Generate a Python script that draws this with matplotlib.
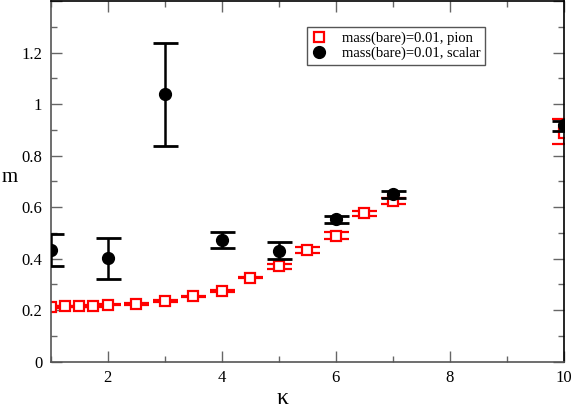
# -*- coding: utf-8 -*-

import numpy as np
import matplotlib.pyplot as plt
from matplotlib.lines import Line2D
from matplotlib.ticker import MultipleLocator, FuncFormatter

plt.rcParams['font.family'] = ['Liberation Serif', 'DejaVu Serif']

#%% data

# pion, mass(bare)=0.01
kappa_pion = [1.0, 1.25, 1.5, 1.75, 2.0, 2.5, 3.0, 3.5, 4.0, 4.5, 5.0, 5.5, 6.0, 6.5, 7.0, 10.0]
m_pion = [0.212, 0.215, 0.215, 0.217, 0.222, 0.224, 0.235, 0.254, 0.274, 0.327, 0.370,
          0.434, 0.490, 0.576, 0.623, 0.889]
m_pion_lo = [0.209, 0.212, 0.212, 0.214, 0.219, 0.221, 0.232, 0.251, 0.271, 0.324, 0.360,
             0.424, 0.478, 0.565, 0.612, 0.845]
m_pion_hi = [0.215, 0.218, 0.218, 0.220, 0.225, 0.227, 0.238, 0.257, 0.277, 0.330, 0.379,
             0.445, 0.503, 0.586, 0.635, 0.943]

# scalar, mass(bare)=0.01
kappa_scalar = [1.0, 2.0, 3.0, 4.0, 5.0, 6.0, 7.0, 10.0]
m_scalar = [0.432, 0.402, 1.040, 0.472, 0.431, 0.553, 0.650, 0.917]
m_scalar_lo = [0.372, 0.321, 0.839, 0.441, 0.399, 0.539, 0.637, 0.894]
m_scalar_hi = [0.494, 0.482, 1.238, 0.504, 0.464, 0.567, 0.663, 0.935]

#%% plot

def err(y, lo, hi):
    y, lo, hi = np.array(y), np.array(lo), np.array(hi)
    return np.vstack((y - lo, hi - y))

plt.close('all')
f = plt.figure(figsize=(5.74, 4.09), dpi=100)
ax = f.add_axes([0.0883, 0.1154, 0.8943, 0.8822])

ax.errorbar(kappa_pion, m_pion, yerr=err(m_pion, m_pion_lo, m_pion_hi), fmt='s',
            color='red', mfc='white', mec='red', mew=1.6, ms=6.5,
            elinewidth=1.5, capsize=9, capthick=2, zorder=2)
ax.errorbar(kappa_scalar, m_scalar, yerr=err(m_scalar, m_scalar_lo, m_scalar_hi), fmt='o',
            color='black', ms=8.5, elinewidth=1.8, capsize=9, capthick=2, zorder=3)

ax.set_xlim(1, 10)
ax.set_ylim(0, 1.4)
ax.xaxis.set_major_locator(MultipleLocator(2))
ax.xaxis.set_minor_locator(MultipleLocator(1))
ax.yaxis.set_major_locator(MultipleLocator(0.2))
ax.yaxis.set_minor_locator(MultipleLocator(0.1))
ax.yaxis.set_major_formatter(FuncFormatter(lambda v, p: '%g' % round(v, 3) if v < 1.3 else ''))
ax.xaxis.set_major_formatter(FuncFormatter(lambda v, p: '%g' % v if v > 1.5 else ''))

ax.tick_params(which='both', direction='in', top=True, right=True, color='#666666',
               labelsize=12, width=1)
ax.tick_params(which='major', length=8, pad=6)
ax.tick_params(which='minor', length=4)
for s in ['left', 'bottom']:
    ax.spines[s].set_color('#555555')
for s in ax.spines.values():
    s.set_linewidth(1.2)

# axis labels
f.text(282 / 574, 1 - 398 / 409, 'κ', fontsize=17, ha='center', va='center')
f.text(10 / 574, 1 - 178 / 409, 'm', fontsize=15, ha='center', va='center')

h = [Line2D([], [], ls='none', marker='s', ms=6.5, mfc='white', mec='red', mew=1.6),
     Line2D([], [], ls='none', marker='o', ms=8.5, color='black')]
leg = ax.legend(h, ['mass(bare)=0.01, pion', 'mass(bare)=0.01, scalar'],
                loc='upper left', bbox_to_anchor=(0.499, 0.928), borderaxespad=0,
                fancybox=False, framealpha=1, edgecolor='#555555', fontsize=10.5,
                handlelength=1.0, handletextpad=1.1, borderpad=0.3, labelspacing=0.15)
leg.get_frame().set_linewidth(1)

f.savefig('out.png', dpi=100)
